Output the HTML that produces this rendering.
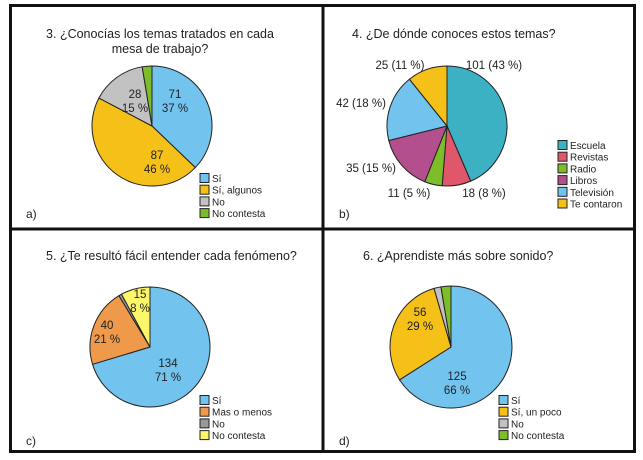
<!DOCTYPE html>
<html><head><meta charset="utf-8"><style>
body{margin:0;background:#fff;}
svg{display:block;font-family:"Liberation Sans",sans-serif;}
</style></head><body>
<svg id="s" width="643" height="460" viewBox="0 0 643 460">
<rect x="0" y="0" width="643" height="460" fill="#fff"/>
<g stroke="#111" stroke-width="3" fill="none">
<rect x="10.5" y="5.5" width="624" height="446"/>
<line x1="10" y1="229" x2="635" y2="229"/>
<line x1="323" y1="5" x2="323" y2="452"/>
</g>
</svg>
<script>
const aLabels=["Sí","Sí, algunos","No","No contesta"];
const aValues=[71,87,28,5];
const aText=[["71","37 %"],["87","46 %"],["28","15 %"],null];
const bLabels=["Escuela","Revistas","Radio","Libros","Televisión","Te contaron"];
const bValues=[101,18,11,35,42,25];
const bText=[["101 (43 %)"],["18 (8 %)"],["11 (5 %)"],["35 (15 %)"],["42 (18 %)"],["25 (11 %)"]];
const cLabels=["Sí","Mas o menos","No","No contesta"];
const cValues=[134,40,1.5,15];
const cText=[["134","71 %"],["40","21 %"],null,["15","8 %"]];
const dLabels=["Sí","Sí, un poco","No","No contesta"];
const dValues=[125,56,3.5,5];
const dText=[["125","66 %"],["56","29 %"],null,null];

const NS="http://www.w3.org/2000/svg";
const svg=document.getElementById('s');
function el(t,a,p){const e=document.createElementNS(NS,t);for(const k in a)e.setAttribute(k,a[k]);(p||svg).appendChild(e);return e;}
function txt(x,y,s,size,anchor,p){const t=el('text',{x:x,y:y,'font-size':size,'text-anchor':anchor||'start',fill:'#222'},p);t.textContent=s;return t;}

function pie(cfg){
  const g=el('g',{});
  
  
  cfg.title.forEach((l,i)=>{const t=txt(cfg.tx,cfg.ty+i*15,l,12.5,cfg.tanchor,g);
    
    });
  const tot=cfg.values.reduce((a,b)=>a+b,0);
  let a0=0;
  cfg.values.forEach((v,i)=>{
    const a1=a0+v/tot*2*Math.PI;
    const x0=cfg.cx+cfg.r*Math.sin(a0),y0=cfg.cy-cfg.r*Math.cos(a0);
    const x1=cfg.cx+cfg.r*Math.sin(a1),y1=cfg.cy-cfg.r*Math.cos(a1);
    const big=(a1-a0)>Math.PI?1:0;
    const p=el('path',{d:`M${cfg.cx},${cfg.cy}L${x0},${y0}A${cfg.r},${cfg.r} 0 ${big} 1 ${x1},${y1}Z`,fill:cfg.colors[i],stroke:'#222','stroke-width':1},g);
    
    
    a0=a1;
  });
  cfg.text.forEach((t,i)=>{
    if(!t)return;
    const pos=cfg.lpos[i];
    t.forEach((s,j)=>{const e=txt(pos[0],pos[1]+j*14,s,11.5,pos[2]||'middle',g);
      
      });
  });
  cfg.labels.forEach((l,i)=>{
    const y=cfg.ly+i*11.7;
    const r=el('rect',{x:cfg.lx,y:y-4.5,width:9,height:9,fill:cfg.colors[i],stroke:'#222','stroke-width':1},g);
    
    
    const t=txt(cfg.lx+12,y+4,l,10,'start',g);
    
    
  });
  const pl=txt(cfg.px,cfg.py,cfg.panel,12,'start',g);
  
  
}
pie({name:'pie-chart-a',title:['3. ¿Conocías los temas tratados en cada','mesa de trabajo?'],tx:160,ty:38,tanchor:'middle',
 cx:152,cy:126,r:60,values:aValues,labels:aLabels,text:aText,colors:['#72c3ee','#f5c018','#c2c2c2','#7dbd2a'],
 lpos:[[175,98],[157,159],[135,98],null],lx:200,ly:178,px:26,py:218,panel:'a)'});
pie({name:'pie-chart-b',title:['4. ¿De dónde conoces estos temas?'],tx:352,ty:38,tanchor:'start',
 cx:447,cy:126,r:60,values:bValues,labels:bLabels,text:bText,colors:['#3db1c4','#e0566a','#7dbd2a','#b24f8c','#72c3ee','#f5c018'],
 lpos:[[494,69],[484,197],[409,197],[371,172],[361,107],[400,69]],lx:558,ly:145,px:339,py:218,panel:'b)'});
pie({name:'pie-chart-c',title:['5. ¿Te resultó fácil entender cada fenómeno?'],tx:46,ty:260,tanchor:'start',
 cx:150,cy:347,r:60,values:cValues,labels:cLabels,text:cText,colors:['#72c3ee','#ef9a4b','#999999','#fdf66a'],
 lpos:[[168,367],[107,329],null,[140,298]],lx:200,ly:400,px:26,py:445,panel:'c)'});
pie({name:'pie-chart-d',title:['6. ¿Aprendiste más sobre sonido?'],tx:363,ty:260,tanchor:'start',
 cx:451,cy:347,r:61,values:dValues,labels:dLabels,text:dText,colors:['#72c3ee','#f5c018','#c2c2c2','#7dbd2a'],
 lpos:[[457,380],[420,316],null,null],lx:499,ly:400,px:339,py:445,panel:'d)'});
</script>
</body></html>
